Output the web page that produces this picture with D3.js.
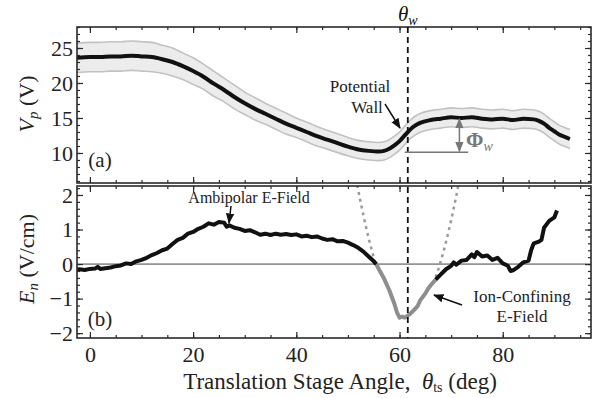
<!DOCTYPE html>
<html>
<head>
<meta charset="utf-8">
<script src="https://cdn.jsdelivr.net/npm/d3@7/dist/d3.min.js"></script>
<style>
  body { margin: 0; background: #fff; }
  svg { display: block; }
  svg text { font-family: "Liberation Serif", "Times New Roman", Tinos, "DejaVu Serif", serif !important; }
</style>
</head>
<body>
<svg id="chart" width="598" height="398"></svg>
<script>
// panel (a): plasma potential
const vpAngle = [-2.5, 0, 2, 4, 6, 8, 10, 12, 14, 16, 18, 20, 22, 24, 26, 28, 30, 32, 34, 36, 38, 40, 42, 44, 46, 48, 50, 52, 54, 56, 57, 58, 59, 60, 61, 62, 63, 64, 66, 68, 70, 72, 74, 76, 78, 80, 82, 84, 86, 87, 88, 89, 90, 91, 92, 93]
const vpValue = [23.6, 23.7, 23.7, 23.8, 23.8, 23.9, 23.8, 23.7, 23.4, 23.0, 22.4, 21.7, 20.9, 19.9, 19.0, 18.0, 17.1, 16.3, 15.6, 14.9, 14.2, 13.6, 13.0, 12.4, 11.9, 11.4, 10.9, 10.5, 10.3, 10.2, 10.3, 10.6, 11.1, 11.7, 12.5, 13.3, 13.9, 14.3, 14.7, 14.9, 15.1, 15.0, 15.1, 14.9, 14.8, 14.9, 14.7, 14.9, 14.8, 14.6, 14.2, 13.6, 13.1, 12.6, 12.3, 12.0]
const vpErr = [2.1, 2.1, 2.1, 2.1, 2.1, 2.1, 2.1, 2.1, 2.0, 2.0, 1.9, 1.9, 1.8, 1.8, 1.7, 1.7, 1.6, 1.6, 1.5, 1.5, 1.5, 1.4, 1.4, 1.4, 1.35, 1.35, 1.3, 1.3, 1.3, 1.3, 1.3, 1.3, 1.3, 1.3, 1.3, 1.3, 1.35, 1.35, 1.35, 1.35, 1.35, 1.35, 1.35, 1.35, 1.35, 1.35, 1.35, 1.35, 1.35, 1.35, 1.35, 1.35, 1.35, 1.35, 1.35, 1.35]

// panel (b): electric field, three pieces
const enAngleA = [-2.5, -2, -1, 0, 1, 1.5, 2, 3, 4, 5, 6, 7, 8, 9, 10, 11, 12, 13, 14, 15, 16, 17, 18, 19, 20, 21, 22, 23, 24, 25, 26, 26.5, 27, 28, 29, 30, 31, 32, 33, 34, 35, 36, 37, 38, 39, 40, 41, 42, 43, 44, 45, 46, 47, 48, 49, 50, 51, 52, 53, 54, 55, 55.5]
const enValueA = [-0.16, -0.15, -0.17, -0.14, -0.13, -0.08, -0.14, -0.12, -0.10, -0.06, -0.04, 0.02, 0.0, 0.08, 0.12, 0.18, 0.26, 0.32, 0.40, 0.45, 0.58, 0.70, 0.76, 0.88, 0.93, 1.02, 1.08, 1.18, 1.14, 1.22, 1.20, 1.08, 1.12, 1.05, 1.02, 0.96, 0.98, 0.92, 0.85, 0.88, 0.84, 0.88, 0.85, 0.87, 0.84, 0.86, 0.80, 0.82, 0.78, 0.80, 0.74, 0.70, 0.72, 0.66, 0.67, 0.62, 0.55, 0.47, 0.36, 0.22, 0.08, 0.0]
const enAngleB = [55.5, 56, 57, 58, 59, 59.5, 60, 60.5, 61, 61.5, 62, 63, 63.5, 64, 65, 65.5, 66, 67]
const enValueB = [0.0, -0.15, -0.42, -0.75, -1.15, -1.40, -1.55, -1.52, -1.55, -1.50, -1.45, -1.30, -1.22, -1.05, -0.85, -0.72, -0.62, -0.45]
const enAngleC = [67, 68, 69, 70, 70.5, 71, 72, 73, 74, 74.5, 75, 76, 77, 78, 79, 80, 81, 81.5, 82, 83, 84, 85, 85.5, 86, 87, 87.5, 88, 89, 90, 90.5]
const enValueC = [-0.45, -0.30, -0.15, -0.05, 0.05, -0.02, 0.10, 0.12, 0.28, 0.20, 0.35, 0.22, 0.25, 0.12, 0.18, 0.02, -0.05, -0.20, -0.18, -0.08, 0.05, 0.10, 0.40, 0.60, 0.65, 0.70, 1.05, 1.25, 1.35, 1.55]

// fitted parabola (dotted), two visible branches
const fitAngleL = [51.8, 52.5, 53, 53.5, 54, 54.5, 55, 55.3]
const fitValueL = [2.29, 1.76, 1.41, 1.07, 0.76, 0.47, 0.19, 0.04]
const fitAngleR = [67, 67.5, 68, 68.5, 69, 69.5, 70, 70.5, 71, 71.4]
const fitValueR = [-0.38, -0.16, 0.09, 0.35, 0.64, 0.95, 1.27, 1.62, 1.98, 2.29]

const wallAngle = 61.6
const phiTop = 15.0, phiBase = 10.1

const xTicks = [0, 20, 40, 60, 80]
const vpTicks = [10, 15, 20, 25]
const enTicks = [-2, -1, 0, 1, 2]

const svg = d3.select('#chart')

const x = d3.scaleLinear().domain([-2.5, 97.1]).range([77, 591])
const yA = d3.scaleLinear().domain([5.71, 28]).range([183, 27])
const yB = d3.scaleLinear().domain([-2.14, 2.26]).range([338, 186])

const frameColor = '#2a2a2a'

const defs = svg.append('defs')
defs.append('clipPath').attr('id', 'clipA').append('rect')
    .attr('x', 77).attr('y', 27).attr('width', 514).attr('height', 156)
defs.append('clipPath').attr('id', 'clipB').append('rect')
    .attr('x', 77).attr('y', 186).attr('width', 514).attr('height', 152)

const mk = (id, color) => defs.append('marker')
    .attr('id', id).attr('viewBox', '0 0 10 10').attr('refX', 9).attr('refY', 5)
    .attr('markerWidth', 7).attr('markerHeight', 7).attr('orient', 'auto-start-reverse')
    .append('path').attr('d', 'M0,1 L10,5 L0,9 Z').attr('fill', color)
mk('arrBlack', '#111')
mk('arrGrey', '#777')

// ---- panel (a)
const vpData = vpAngle.map((a, i) => ({ a, v: vpValue[i], e: vpErr[i] }))
const gA = svg.append('g').attr('clip-path', 'url(#clipA)')

gA.append('path')
    .datum(vpData)
    .attr('d', d3.area().x(d => x(d.a)).y0(d => yA(d.v - d.e)).y1(d => yA(d.v + d.e)).curve(d3.curveMonotoneX))
    .attr('fill', '#ececec')
gA.selectAll('.edge')
    .data([1, -1])
    .join('path')
    .attr('d', s => d3.line().x(d => x(d.a)).y(d => yA(d.v + s * d.e)).curve(d3.curveMonotoneX)(vpData))
    .attr('fill', 'none').attr('stroke', '#c2c2c2').attr('stroke-width', 1.6)
gA.append('path')
    .datum(vpData)
    .attr('d', d3.line().x(d => x(d.a)).y(d => yA(d.v)).curve(d3.curveMonotoneX))
    .attr('fill', 'none').attr('stroke', '#111').attr('stroke-width', 4)

// ---- panel (b)
const gB = svg.append('g').attr('clip-path', 'url(#clipB)')
gB.append('line')
    .attr('x1', 77).attr('x2', 591).attr('y1', yB(0)).attr('y2', yB(0))
    .attr('stroke', '#444').attr('stroke-width', 1)

const lineB = d3.line().x(d => x(d[0])).y(d => yB(d[1]))
const zip = (a, b) => a.map((v, i) => [v, b[i]])

gB.selectAll('.fit')
    .data([zip(fitAngleL, fitValueL), zip(fitAngleR, fitValueR)])
    .join('path')
    .attr('d', d => d3.line().x(p => x(p[0])).y(p => yB(p[1])).curve(d3.curveMonotoneX)(d))
    .attr('fill', 'none').attr('stroke', '#9a9a9a').attr('stroke-width', 2.5)
    .attr('stroke-dasharray', '3,4')

gB.append('path').attr('d', lineB(zip(enAngleB, enValueB)))
    .attr('fill', 'none').attr('stroke', '#8e8e8e').attr('stroke-width', 4).attr('stroke-linejoin', 'round')
gB.selectAll('.blk')
    .data([zip(enAngleA, enValueA), zip(enAngleC, enValueC)])
    .join('path')
    .attr('d', d => lineB(d))
    .attr('fill', 'none').attr('stroke', '#111').attr('stroke-width', 4).attr('stroke-linejoin', 'round')

// ---- axes: inward ticks on all four sides
function drawAxes(y, top, bottom, majorY, minorY) {
    const minorX = d3.range(0, 96, 5)
    const g = svg.append('g')
    const ax = (axis, tx, ty) => g.append('g').attr('transform', `translate(${tx},${ty})`).call(axis)
        .call(s => s.select('.domain').remove())
        .call(s => s.selectAll('line').attr('stroke', frameColor).attr('stroke-width', 1.2))
    ax(d3.axisBottom(x).tickValues(minorX).tickSize(-3).tickFormat(''), 0, bottom)
    ax(d3.axisTop(x).tickValues(minorX).tickSize(-3).tickFormat(''), 0, top)
    ax(d3.axisBottom(x).tickValues(xTicks).tickSize(-6).tickFormat(''), 0, bottom)
    ax(d3.axisTop(x).tickValues(xTicks).tickSize(-6).tickFormat(''), 0, top)
    ax(d3.axisLeft(y).tickValues(minorY).tickSize(-3).tickFormat(''), 77, 0)
    ax(d3.axisRight(y).tickValues(minorY).tickSize(-3).tickFormat(''), 591, 0)
    ax(d3.axisRight(y).tickValues(majorY).tickSize(-6).tickFormat(''), 591, 0)
    ax(d3.axisLeft(y).tickValues(majorY).tickSize(-6).tickPadding(4)
        .tickFormat(d => d < 0 ? '\u2212' + Math.abs(d) : d), 77, 0)
        .call(s => s.selectAll('text').attr('font-size', 22).attr('fill', '#222'))
    g.append('rect').attr('x', 77).attr('y', top).attr('width', 514).attr('height', bottom - top)
        .attr('fill', 'none').attr('stroke', frameColor).attr('stroke-width', 1.6)
}
drawAxes(yA, 27, 183, vpTicks, d3.range(6, 28.01, 1))
drawAxes(yB, 186, 338, enTicks, d3.range(-2, 2.21, 0.2).map(v => +v.toFixed(1)))

// x tick labels under panel (b)
svg.append('g').attr('transform', 'translate(0,338)')
    .call(d3.axisBottom(x).tickValues(xTicks).tickSize(0).tickPadding(8))
    .call(s => s.select('.domain').remove())
    .call(s => s.selectAll('text').attr('font-size', 22).attr('fill', '#222'))

// wall angle dashed line
svg.append('line')
    .attr('x1', x(wallAngle)).attr('x2', x(wallAngle)).attr('y1', 27).attr('y2', 338)
    .attr('stroke', '#111').attr('stroke-width', 1.8).attr('stroke-dasharray', '6,4')

const th = svg.append('text').attr('x', x(wallAngle)).attr('y', 21).attr('text-anchor', 'middle')
    .attr('font-size', 21).attr('fill', '#111')
th.append('tspan').attr('font-style', 'italic').text('θ')
th.append('tspan').attr('font-style', 'italic').attr('font-size', 14).attr('dy', 4).text('w')

// Phi_w annotation
svg.append('line')
    .attr('x1', x(61)).attr('x2', x(73.3)).attr('y1', yA(phiBase)).attr('y2', yA(phiBase))
    .attr('stroke', '#777').attr('stroke-width', 1.5)
svg.append('line')
    .attr('x1', x(71.6)).attr('x2', x(71.6)).attr('y1', yA(phiTop) + 1).attr('y2', yA(phiBase) - 1)
    .attr('stroke', '#777').attr('stroke-width', 1.5)
    .attr('marker-start', 'url(#arrGrey)').attr('marker-end', 'url(#arrGrey)')
const phi = svg.append('text').attr('x', 466).attr('y', 147).attr('fill', '#777').attr('font-size', 21)
phi.append('tspan').attr('font-weight', 'bold').text('Φ')
phi.append('tspan').attr('font-style', 'italic').attr('font-size', 14).attr('dy', 4).text('w')

// text annotations
const ann = (t, ax, ay, size) => svg.append('text').attr('x', ax).attr('y', ay)
    .attr('text-anchor', 'middle').attr('font-size', size).attr('fill', '#222').text(t)
ann('Potential', 360, 92, 17)
ann('Wall', 367, 113, 17)
ann('Ambipolar E-Field', 249, 203, 16)
ann('Ion-Confining', 522, 302, 17)
ann('E-Field', 522, 322, 17)

const arrow = (x1, y1, x2, y2) => svg.append('line')
    .attr('x1', x1).attr('y1', y1).attr('x2', x2).attr('y2', y2)
    .attr('stroke', '#111').attr('stroke-width', 1.5).attr('marker-end', 'url(#arrBlack)')
arrow(385, 104, 400, 128)
arrow(231, 206, 229, 223)
arrow(462, 305, 434, 295)

ann('(a)', 100, 167, 21)
ann('(b)', 100, 326, 21)

// axis titles
const yt1 = svg.append('text').attr('transform', 'translate(34,104) rotate(-90)')
    .attr('text-anchor', 'middle').attr('font-size', 22).attr('fill', '#222')
yt1.append('tspan').attr('font-style', 'italic').text('V')
yt1.append('tspan').attr('font-style', 'italic').attr('font-size', 15).attr('dy', 4).text('p')
yt1.append('tspan').attr('dy', -4).text(' (V)')

const yt2 = svg.append('text').attr('transform', 'translate(34,259) rotate(-90)')
    .attr('text-anchor', 'middle').attr('font-size', 22).attr('fill', '#222')
yt2.append('tspan').attr('font-style', 'italic').text('E')
yt2.append('tspan').attr('font-style', 'italic').attr('font-size', 15).attr('dy', 4).text('n')
yt2.append('tspan').attr('dy', -4).text(' (V/cm)')

const xt = svg.append('text').attr('x', 340).attr('y', 389)
    .attr('text-anchor', 'middle').attr('font-size', 23).attr('fill', '#222')
xt.append('tspan').text('Translation Stage Angle,\u00a0\u00a0')
xt.append('tspan').attr('font-style', 'italic').text('θ')
xt.append('tspan').attr('font-size', 14).attr('dy', 3).text('ts')
xt.append('tspan').attr('dy', -3).text(' (deg)')
</script>
</body>
</html>
